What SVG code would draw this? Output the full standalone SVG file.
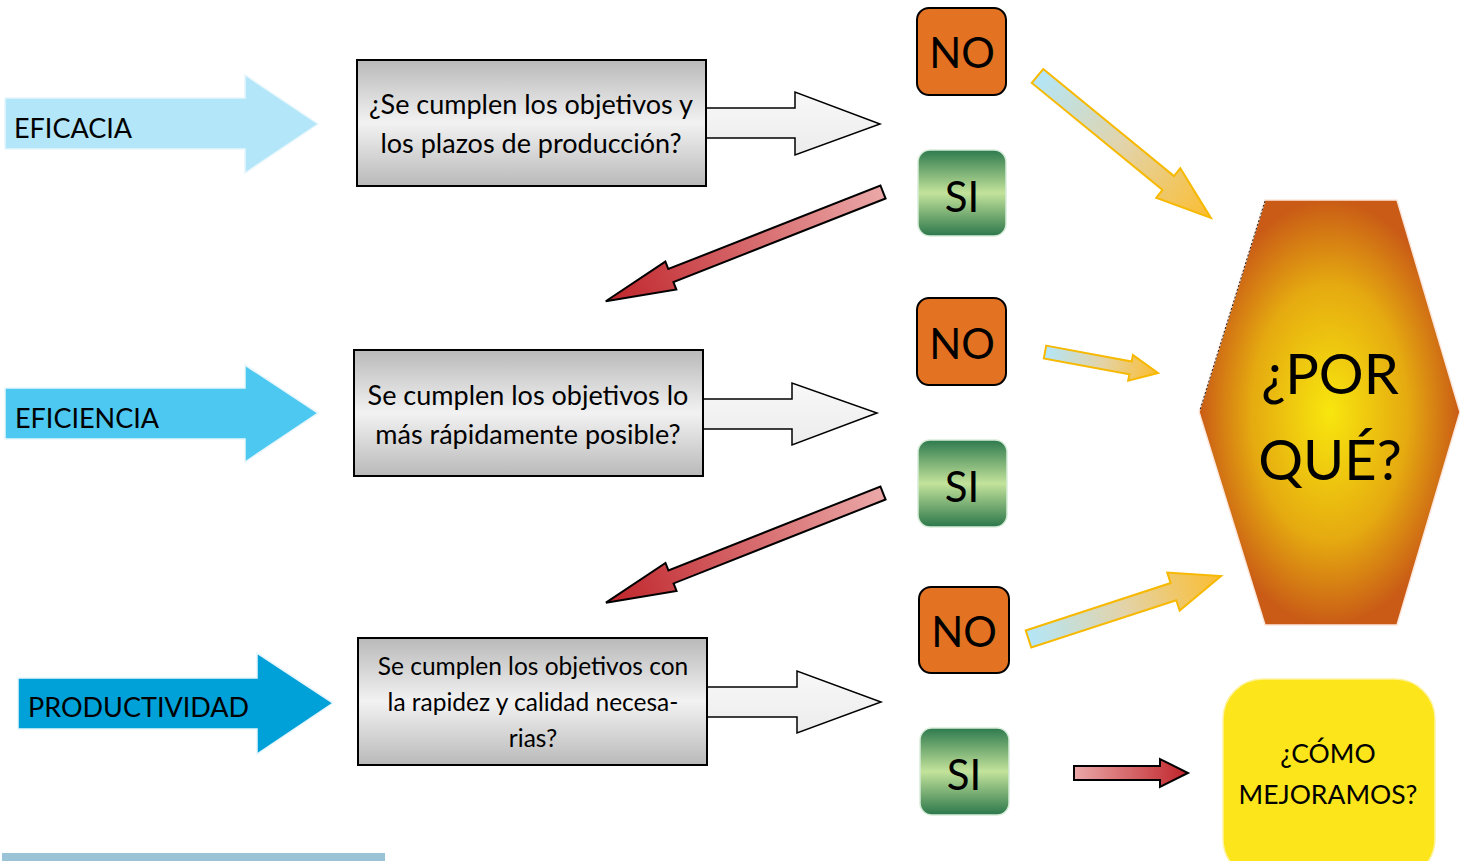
<svg xmlns="http://www.w3.org/2000/svg" width="1460" height="861" viewBox="0 0 1460 861">
<defs>
<style>
text{font-family:Lato,"Liberation Sans",sans-serif;fill:#000}
.lbl{font-size:27px}
.q{font-size:27px;text-anchor:middle}
.q3{font-size:24.5px;text-anchor:middle}
.yn{font-size:42px;text-anchor:middle}
.box{fill:url(#boxG);stroke:#000;stroke-width:2}
.carr{fill:url(#arrG);stroke:#000;stroke-width:1.5}
.no{fill:#e37222;stroke:#000;stroke-width:2}
.si{fill:url(#siG);stroke:#d6ecd9;stroke-width:1.5}
.red{fill:url(#redG);stroke:#000;stroke-width:2}
.ya{fill:url(#yG);stroke:#f7b900;stroke-width:2}
</style>
<linearGradient id="boxG" x1="0" y1="0" x2="0" y2="1">
<stop offset="0" stop-color="#b9b9b9"/><stop offset="0.5" stop-color="#f2f2f2"/><stop offset="1" stop-color="#b9b9b9"/>
</linearGradient>
<linearGradient id="arrG" x1="0" y1="0" x2="0" y2="1">
<stop offset="0" stop-color="#f8f8f8"/><stop offset="1" stop-color="#ececec"/>
</linearGradient>
<linearGradient id="siG" x1="0" y1="0" x2="0" y2="1">
<stop offset="0" stop-color="#2e7a4e"/><stop offset="0.5" stop-color="#c3e39b"/><stop offset="1" stop-color="#2c774b"/>
</linearGradient>
<linearGradient id="redG" x1="0" y1="0" x2="1" y2="0">
<stop offset="0" stop-color="#eba8a8"/><stop offset="1" stop-color="#bf242a"/>
</linearGradient>
<linearGradient id="yG" x1="0" y1="0" x2="1" y2="0">
<stop offset="0" stop-color="#b3e6f8"/><stop offset="0.5" stop-color="#e3d3a8"/><stop offset="1" stop-color="#fbbd30"/>
</linearGradient>
<radialGradient id="hexG" cx="0.5" cy="0.5" r="0.5">
<stop offset="0" stop-color="#f8e60e"/><stop offset="0.6" stop-color="#e5aa10"/><stop offset="1" stop-color="#c95b16"/>
</radialGradient>
</defs>

<g id="eficacia">
<path d="M5,98 L245,98 L245,75 L318,124 L245,173 L245,149 L5,149 Z" fill="#b3e6f8" stroke="#e6f6fc" stroke-width="1.5"/>
<text class="lbl" x="14" y="138">EFICACIA</text>
</g>
<g id="eficiencia">
<path d="M5,388 L245,388 L245,365 L318,413 L245,462 L245,439 L5,439 Z" fill="#4dc8f0" stroke="#e6f6fc" stroke-width="1.5"/>
<text class="lbl" x="15" y="428">EFICIENCIA</text>
</g>
<g id="productividad">
<path d="M18,678 L257,678 L257,653 L333,703 L257,754 L257,729 L18,729 Z" fill="#00a0d8" stroke="#e6f6fc" stroke-width="1.5"/>
<text class="lbl" x="28" y="717">PRODUCTIVIDAD</text>
</g>

<g id="q1">
<path class="carr" d="M700,108 L795,108 L795,92 L880,124 L795,155 L795,138 L700,138 Z"/>
<rect class="box" x="357" y="60" width="349" height="126"/>
<text class="q" x="531" y="114">¿Se cumplen los objetivos y</text>
<text class="q" x="531" y="153">los plazos de producción?</text>
</g>
<g id="q2">
<path class="carr" d="M697,399 L792,399 L792,383 L877,413 L792,445 L792,429 L697,429 Z"/>
<rect class="box" x="354" y="350" width="349" height="126"/>
<text class="q" x="528" y="405">Se cumplen los objetivos lo</text>
<text class="q" x="528" y="444">más rápidamente posible?</text>
</g>
<g id="q3">
<path class="carr" d="M701,687 L797,687 L797,671 L881,702 L797,733 L797,717 L701,717 Z"/>
<rect class="box" x="358" y="638" width="349" height="127"/>
<text class="q3" x="533" y="675">Se cumplen los objetivos con</text>
<text class="q3" x="533" y="711">la rapidez y calidad necesa-</text>
<text class="q3" x="533" y="747">rias?</text>
</g>

<g id="no1"><rect class="no" x="917" y="8" width="89" height="87" rx="12"/><text class="yn" x="962" y="68">NO</text></g>
<g id="si1"><rect class="si" x="918" y="150" width="88" height="86" rx="12"/><text class="yn" x="962" y="212">SI</text></g>
<g id="no2"><rect class="no" x="917" y="298" width="89" height="87" rx="12"/><text class="yn" x="962" y="359">NO</text></g>
<g id="si2"><rect class="si" x="918" y="440" width="89" height="87" rx="12"/><text class="yn" x="962" y="502">SI</text></g>
<g id="no3"><rect class="no" x="919" y="587" width="90" height="86" rx="12"/><text class="yn" x="964" y="647">NO</text></g>
<g id="si3"><rect class="si" x="920" y="728" width="89" height="87" rx="12"/><text class="yn" x="964" y="790">SI</text></g>

<g id="porque">
<path d="M1265,200 L1397,200 L1460,412 L1397,625 L1265,625 L1199,412 Z" fill="url(#hexG)" stroke="#fbe7dc" stroke-width="1.5"/>
<path d="M1265,201 L1200,410" fill="none" stroke="#222" stroke-width="1" stroke-dasharray="2,2"/>
<text x="1330" y="394" font-size="56" text-anchor="middle">¿POR</text>
<text x="1330" y="480" font-size="56" text-anchor="middle">QUÉ?</text>
</g>

<g id="como">
<rect x="1223" y="679" width="212" height="200" rx="40" fill="#fce51b" stroke="#fdf3a0" stroke-width="1.5"/>
<text x="1328" y="763" font-size="26.5" text-anchor="middle">¿CÓMO</text>
<text x="1328" y="804" font-size="26.5" text-anchor="middle">MEJORAMOS?</text>
</g>

<g id="connectors">
<path class="red" transform="translate(883,192) rotate(158.5)" d="M0,-7 L228,-7 L228,-15 L298,0 L228,15 L228,7 L0,7 Z"/>
<path class="red" transform="translate(883,493) rotate(158.4)" d="M0,-7 L228,-7 L228,-15 L298,0 L228,15 L228,7 L0,7 Z"/>
<path class="red" d="M1074,766 L1160,766 L1160,759 L1188,773 L1160,787 L1160,780 L1074,780 Z"/>
<path class="ya" transform="translate(1037.5,76) rotate(39.3)" d="M0,-9 L169,-9 L169,-19 L224,0 L169,19 L169,9 L0,9 Z"/>
<path class="ya" transform="translate(1045,352) rotate(10.5)" d="M0,-6.5 L87,-6.5 L87,-13 L115,0 L87,13 L87,6.5 L0,6.5 Z"/>
<path class="ya" transform="translate(1028.5,639) rotate(-18.1)" d="M0,-9 L152.5,-9 L152.5,-20 L202.5,0 L152.5,20 L152.5,9 L0,9 Z"/>
</g>

<rect x="2" y="853" width="383" height="8" fill="#9ac3d8"/>
</svg>
